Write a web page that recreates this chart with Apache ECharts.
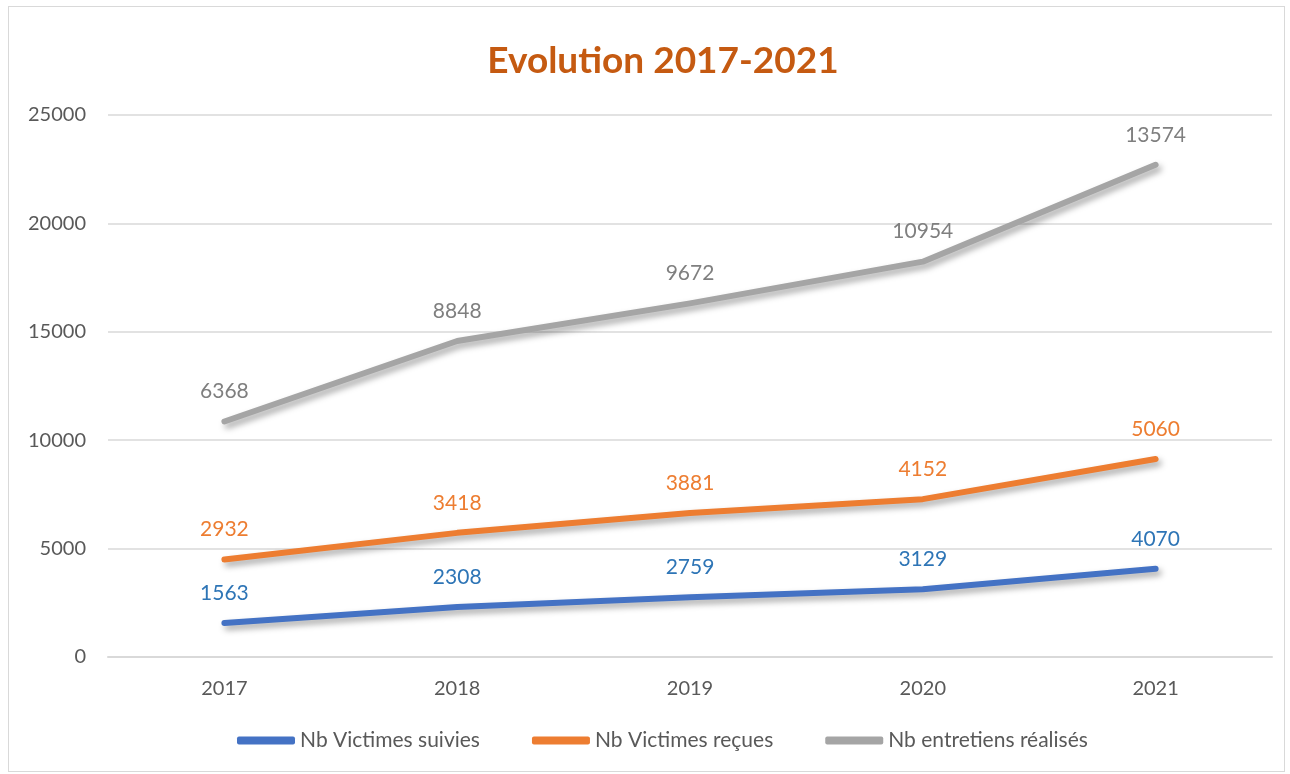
<!DOCTYPE html>
<html><head><meta charset="utf-8">
<script src="https://cdn.jsdelivr.net/npm/echarts@6/dist/echarts.min.js"></script>
<style>html,body{margin:0;padding:0;background:#fff}#c{width:1290px;height:774px}
#frame{position:absolute;left:8px;top:6px;width:1277px;height:766px;border:1.5px solid #d9d9d9;box-sizing:border-box;pointer-events:none}</style>
</head><body><div id="c"></div><div id="frame"></div>
<script>
const title = 'Evolution 2017-2021';
const years = ['2017','2018','2019','2020','2021'];
const seriesNames = ['Nb Victimes suivies','Nb Victimes reçues','Nb entretiens réalisés'];
const suivies = [1563, 2308, 2759, 3129, 4070];
const recues = [2932, 3418, 3881, 4152, 5060];
const entretiens = [6368, 8848, 9672, 10954, 13574];
const colors = ['#4472C4','#ED7D31','#A5A5A5'];
const labelColors = ['#2E75B6','#ED7D31','#7F7F7F'];
const font = 'Lato, "Open Sans", sans-serif';
const chart = echarts.init(document.getElementById('c'));
const data = [suivies, recues, entretiens];
chart.setOption({
  animation:false,
  title:{text:title,left:658,textAlign:'center',top:38,textStyle:{fontFamily:font,fontSize:37,fontWeight:'bold',color:'#C55A11'}},
  grid:{left:108,right:18,top:115,bottom:117},
  legend:{bottom:18,left:232,itemWidth:58,itemHeight:8,itemGap:52,
    textStyle:{fontFamily:font,fontSize:21,color:'#595959'},
    data:seriesNames.map((n,i)=>({name:n,icon:'roundRect',itemStyle:{color:colors[i]}}))},
  xAxis:{type:'category',data:years,boundaryGap:true,
    axisLine:{lineStyle:{color:'#d9d9d9',width:2}},axisTick:{show:false},
    axisLabel:{fontFamily:font,fontSize:20,color:'#595959',margin:22}},
  yAxis:{type:'value',min:0,max:25000,interval:5000,
    axisLine:{show:false},axisTick:{show:false},
    splitLine:{lineStyle:{color:'#d9d9d9',width:1.5}},
    axisLabel:{fontFamily:font,fontSize:20,color:'#595959',margin:22,align:'right',formatter:v=>String(v)}},
  series:data.map((d,i)=>({
    name:seriesNames[i],type:'line',stack:'total',data:d,
    symbol:'circle',symbolSize:1,showSymbol:true,smooth:false,
    lineStyle:{color:colors[i],width:6,cap:'round',join:'round',
      shadowColor:'rgba(0,0,0,0.35)',shadowBlur:6,shadowOffsetX:3,shadowOffsetY:4},
    itemStyle:{color:colors[i]},
    label:{show:true,position:'top',distance:19,fontFamily:font,fontSize:21,color:labelColors[i]}
  }))
});
</script></body></html>
